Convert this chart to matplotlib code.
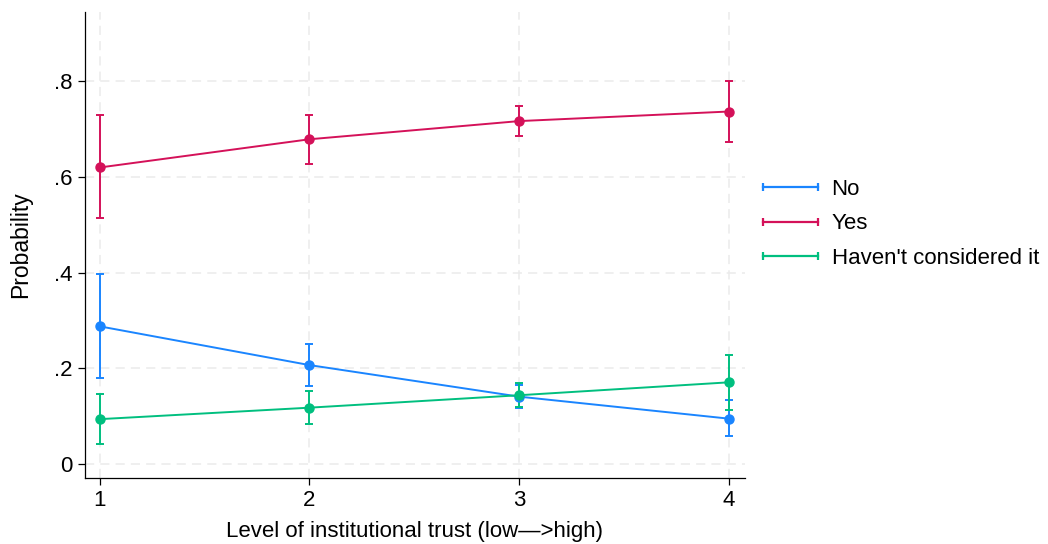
import numpy as np
import matplotlib.pyplot as plt
from matplotlib.lines import Line2D

plt.rcParams['font.family'] = ['Liberation Sans', 'DejaVu Sans']

# Predicted probabilities with 95% CIs by institutional trust level
trust = [1, 2, 3, 4]
labels = ["No", "Yes", "Haven't considered it"]
colors = ["#1a85ff", "#d41159", "#00bf7f"]

prob_no = [0.288, 0.207, 0.141, 0.095]
lo_no = [0.180, 0.163, 0.118, 0.059]
hi_no = [0.398, 0.251, 0.165, 0.133]

prob_yes = [0.620, 0.679, 0.717, 0.737]
lo_yes = [0.514, 0.628, 0.686, 0.674]
hi_yes = [0.729, 0.729, 0.748, 0.800]

prob_hc = [0.094, 0.118, 0.144, 0.171]
lo_hc = [0.042, 0.084, 0.120, 0.113]
hi_hc = [0.146, 0.153, 0.169, 0.228]

series = [(prob_no, lo_no, hi_no), (prob_yes, lo_yes, hi_yes), (prob_hc, lo_hc, hi_hc)]

fig = plt.figure(figsize=(10.48, 5.44), dpi=100)
ax = fig.add_axes([85 / 1048, 66 / 544, 660 / 1048, 466 / 544])

for (p, lo, hi), c in zip(series, colors):
    p = np.array(p)
    yerr = [p - np.array(lo), np.array(hi) - p]
    ax.errorbar(trust, p, yerr=yerr, color=c, lw=1.4, marker='o', ms=6.5,
                capsize=3, capthick=1.4, elinewidth=1.4, zorder=3)

ax.set_xlim(0.93, 4.076)
ax.set_ylim(-0.029, 0.945)
ax.set_xticks(trust)
ax.set_yticks([0, 0.2, 0.4, 0.6, 0.8])
ax.set_yticklabels(["0", ".2", ".4", ".6", ".8"])
ax.grid(True, color="#ebebeb", ls=(0, (6, 4)), lw=1.1, zorder=0)
ax.tick_params(labelsize=16, length=5, width=0.9, colors="black", pad=4)
for s in ["top", "right"]:
    ax.spines[s].set_visible(False)
for s in ["left", "bottom"]:
    ax.spines[s].set_linewidth(0.9)

ax.set_xlabel("Level of institutional trust (low\u2014>high)", fontsize=16, labelpad=7)
ax.set_ylabel("Probability", fontsize=16.5, labelpad=16)

handles = [Line2D([], [], color=c, lw=1.6, marker='|', ms=6, mew=1.6) for c in colors]
fig.legend(handles, labels, loc="center left", bbox_to_anchor=(756 / 1048, 1 - 224 / 544),
           frameon=False, fontsize=16, numpoints=2, handlelength=3.1,
           handletextpad=0.3, labelspacing=0.6, borderpad=0, borderaxespad=0)

fig.savefig("out.png", dpi=100)
